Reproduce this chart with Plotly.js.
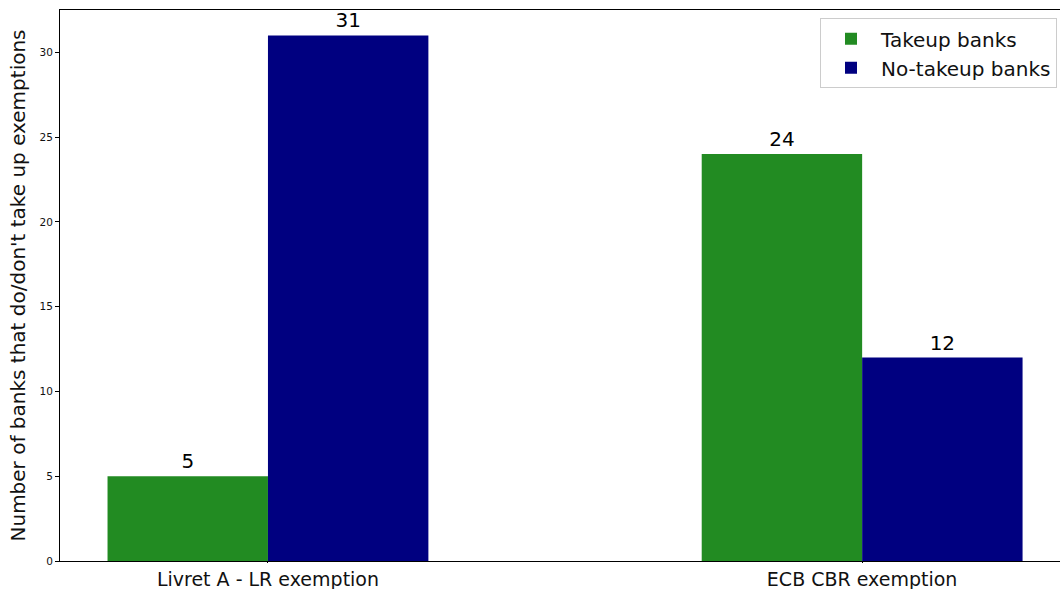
<!DOCTYPE html>
<html>
<head>
<meta charset="utf-8">
<script src="https://cdn.plot.ly/plotly-3.0.1.min.js"></script>
<style>html,body{margin:0;padding:0;background:#fff;}</style>
</head>
<body>
<div id="chart" style="width:1060px;height:589px;"></div>
<script>
const categories = ["Livret A - LR exemption", "ECB CBR exemption"];
const takeupValues = [5, 24];
const noTakeupValues = [31, 12];
const seriesNames = ["Takeup banks", "No-takeup banks"];
const yTickValues = [0, 5, 10, 15, 20, 25, 30];

const catIdx = categories.map((c, i) => i);

const font = "DejaVu Sans, sans-serif";

const traces = [
  {
    type: "bar", name: seriesNames[0], x: catIdx, y: takeupValues,
    marker: {color: "#228b22", line: {width: 0}},
    text: takeupValues.map(String), textposition: "outside",
    textfont: {family: font, size: 20, color: "#000"}, cliponaxis: false
  },
  {
    type: "bar", name: seriesNames[1], x: catIdx, y: noTakeupValues,
    marker: {color: "#000080", line: {width: 0}},
    text: noTakeupValues.map(String), textposition: "outside",
    textfont: {family: font, size: 20, color: "#000"}, cliponaxis: false
  }
];

const layout = {
  width: 1060, height: 589,
  margin: {l: 60, r: 0, t: 10, b: 28, pad: 0},
  paper_bgcolor: "#fff", plot_bgcolor: "#fff",
  font: {family: font, color: "#000"},
  barmode: "group", bargap: 0.46, bargroupgap: 0,
  showlegend: true,
  legend: {
    x: 0.997, y: 0.985, xanchor: "right", yanchor: "top",
    bgcolor: "#fff", bordercolor: "#cccccc", borderwidth: 1,
    font: {family: font, size: 20, color: "#111"},
    itemwidth: 50, tracegroupgap: 6
  },
  xaxis: {
    range: [-0.35, 1.333],
    tickmode: "array", tickvals: catIdx, ticktext: categories,
    tickfont: {family: font, size: 19, color: "#111"},
    ticks: "outside", ticklen: 1, tickcolor: "#000", tickwidth: 1,
    showgrid: false, zeroline: false,
    showline: true, linecolor: "#000", linewidth: 1, mirror: true
  },
  yaxis: {
    range: [0, 32.5],
    tickmode: "array", tickvals: yTickValues, ticktext: yTickValues.map(String),
    tickfont: {family: font, size: 10.5, color: "#111"},
    ticks: "outside", ticklen: 4, tickcolor: "#000", tickwidth: 1,
    showgrid: false, zeroline: false,
    showline: true, linecolor: "#000", linewidth: 1, mirror: true,
    title: {text: "Number of banks that do/don't take up exemptions", font: {family: font, size: 20, color: "#111"}, standoff: 8}
  }
};

Plotly.newPlot("chart", traces, layout, {displayModeBar: false, staticPlot: true});
</script>
</body>
</html>
